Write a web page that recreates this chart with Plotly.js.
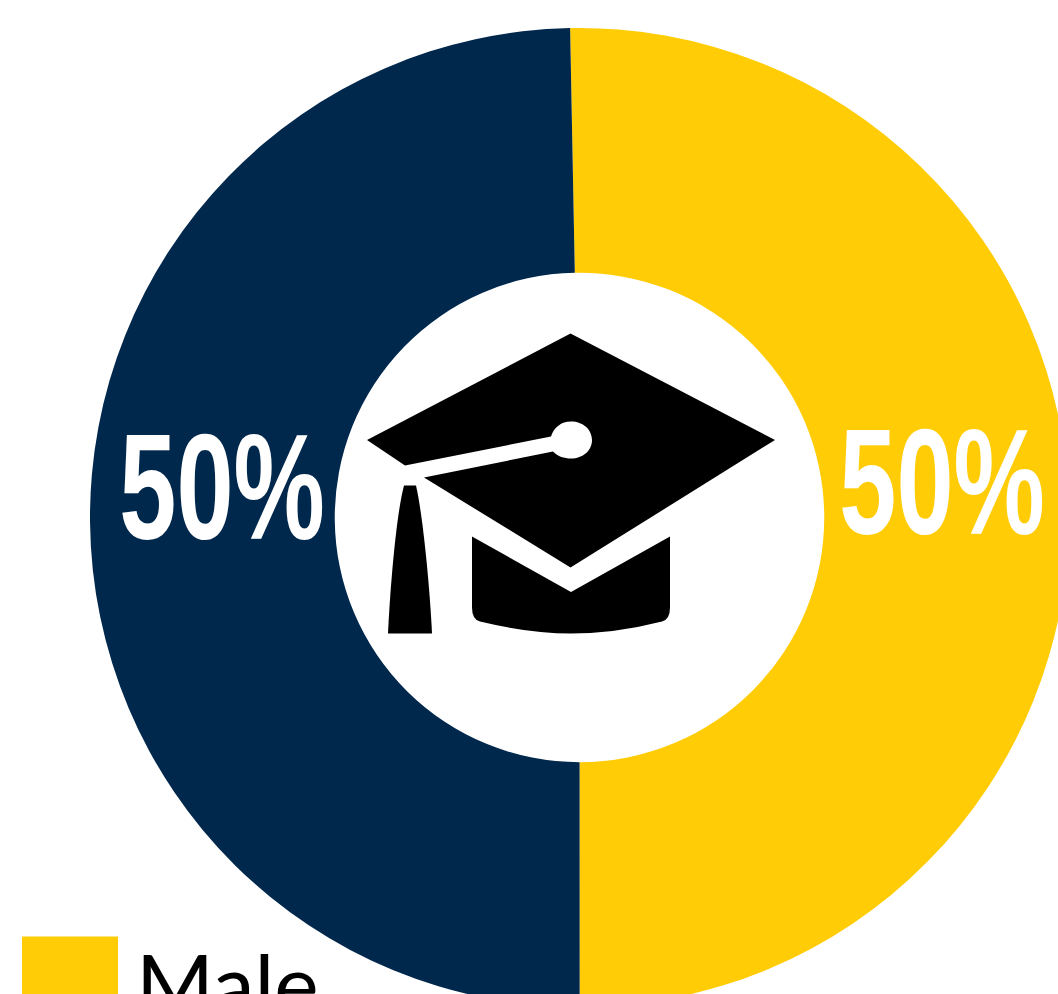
<!DOCTYPE html>
<html>
<head>
<meta charset="utf-8">
<script src="https://cdn.plot.ly/plotly-3.0.1.min.js"></script>
<style>html,body{margin:0;padding:0;width:1058px;height:994px;overflow:hidden;background:#fff}
.annotation[data-index="0"] text,.annotation[data-index="1"] text{transform-box:fill-box;transform-origin:center;transform:scaleX(.685)}
</style>
</head>
<body>
<div id="chart"></div>
<script>
var categories = ['Male', 'Female'];
var shares = [50.3, 49.7];
var shownLabels = ['50%', '50%'];
var colors = ['#FFCC05', '#00274C'];

var L = 90, T = 27.5, D = 979;
function fx(p){ return (p - L) / D; }
function fy(p){ return 1 - (p - T) / D; }
function path(cmds){
  return cmds.map(function(c){
    var out = [c[0]];
    for (var i = 1; i < c.length; i += 2) out.push(fx(c[i]) + ' ' + fy(c[i+1]));
    return out.join(' ');
  }).join(' ') + ' Z';
}
var capTop = [['M',570.5,333],['L',775,439.5],['L',570.5,567],['L',424,477],['L',553,451],
  ['C',558,456,564,458,571,458],['C',583,458,592,450,592,439.5],['C',592,429,583,421,571,421],
  ['C',561,421,554,427,551,436],['L',405,465],['L',367,439.5]];
var capBase = [['M',472,536],['L',571,591.5],['L',670,536],['L',670,607],['Q',670,619,662,621],
  ['Q',615,633,571,633],['Q',530,633,480,621],['Q',472,619,472,607]];
var tassel = [['M',404,485],['L',416,485],['C',423,515,430,590,432,633],['L',388,633],['C',390,590,396,515,404,485]];
function blackShape(p){ return {type:'path', xref:'paper', yref:'paper', path:path(p), fillcolor:'#000', line:{width:0}}; }

var layout = {
  width: L + D, height: T + D + 120,
  margin: {l:L, r:0, t:T, b:120},
  showlegend: false,
  paper_bgcolor:'#fff',
  shapes: [
    blackShape(capTop), blackShape(capBase), blackShape(tassel),
    {type:'rect', xref:'paper', yref:'paper', x0:fx(22), x1:fx(118), y0:fy(936), y1:fy(1060), fillcolor:colors[0], line:{width:0}}
  ],
  annotations: [
    {text:shownLabels[0], xref:'paper', yref:'paper', x:fx(941.5), y:fy(481.5), xanchor:'center', yanchor:'middle', showarrow:false,
     font:{family:'"Liberation Sans",sans-serif', size:150, color:'#fff', weight:700}},
    {text:shownLabels[1], xref:'paper', yref:'paper', x:fx(222), y:fy(486), xanchor:'center', yanchor:'middle', showarrow:false,
     font:{family:'"Liberation Sans",sans-serif', size:150, color:'#fff', weight:700}},
    {text:categories[0], xref:'paper', yref:'paper', x:fx(134), y:fy(982), xanchor:'left', yanchor:'middle', showarrow:false,
     font:{family:'Lato, sans-serif', size:84, color:'#000'}}
  ]
};
var data = [{type:'pie', labels:categories, values:shares, hole:0.5, sort:false, direction:'clockwise', rotation:-1.1,
  marker:{colors:colors, line:{width:0}}, textinfo:'none', hoverinfo:'label+percent'}];
Plotly.newPlot('chart', data, layout, {displayModeBar:false, staticPlot:true});
</script>
</body>
</html>
